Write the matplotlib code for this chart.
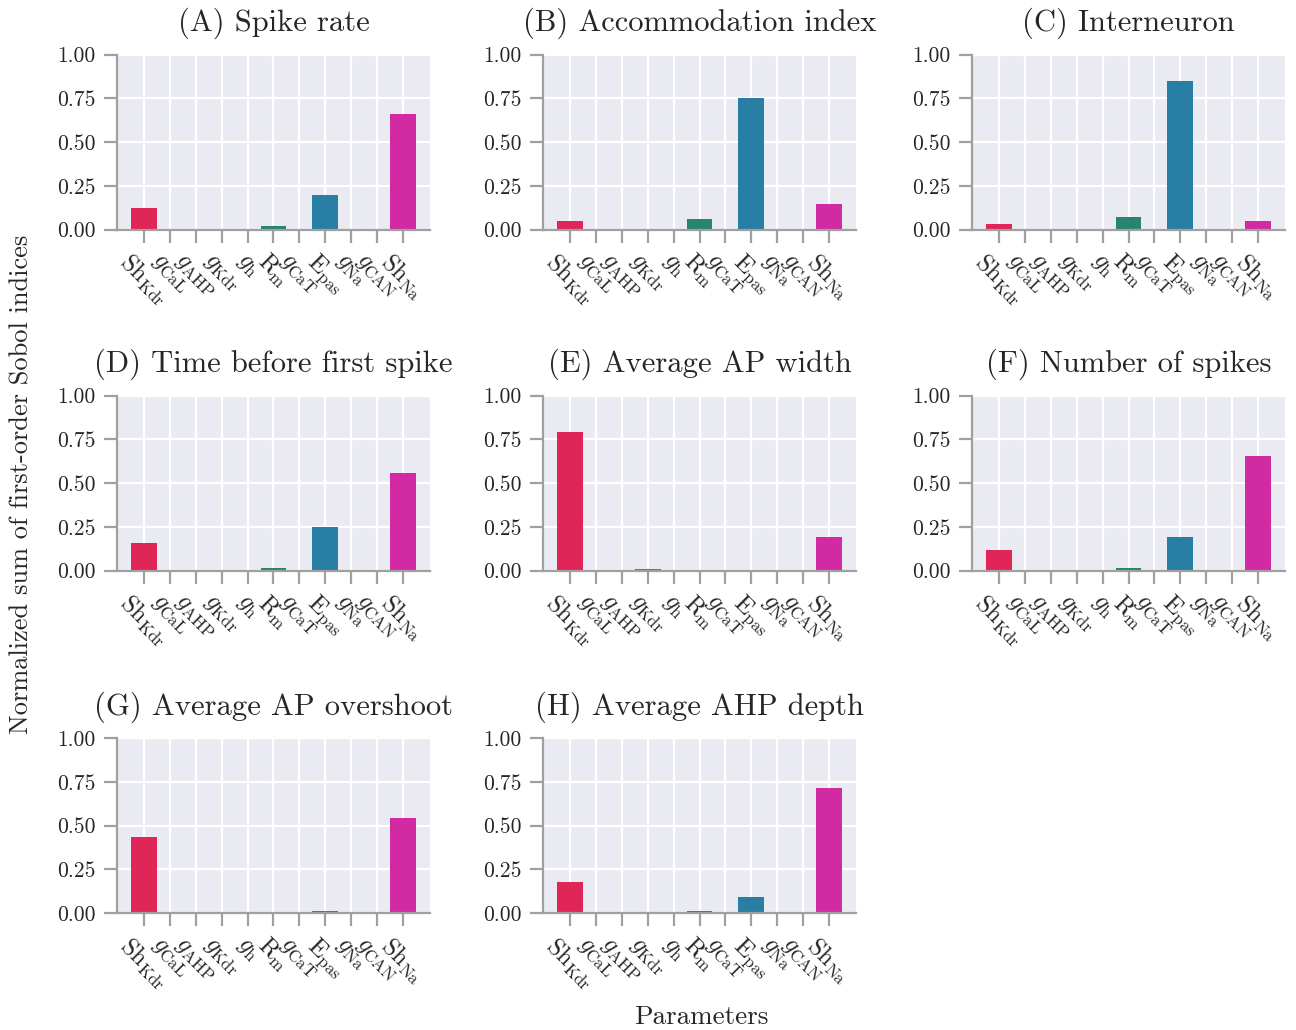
import matplotlib
matplotlib.use("Agg")
import matplotlib.pyplot as plt
import numpy as np
import seaborn as sns

plt.rcParams['font.family'] = 'serif'
plt.rcParams['font.serif'] = ['cmr10', 'DejaVu Serif']
plt.rcParams['mathtext.fontset'] = 'cm'
plt.rcParams['axes.formatter.use_mathtext'] = True
plt.rcParams['axes.unicode_minus'] = False

params = ["ShKdr", "gCaL", "gAHP", "gKdr", "gh", "Rm", "gCaT", "Epas", "gNa", "gCAN", "ShNa"]
param_labels = [r"$\mathrm{Sh}_{\mathrm{Kdr}}$", r"$g_{\mathrm{CaL}}$", r"$g_{\mathrm{AHP}}$",
                r"$g_{\mathrm{Kdr}}$", r"$g_{\mathrm{h}}$", r"$\mathrm{R}_{\mathrm{m}}$",
                r"$g_{\mathrm{CaT}}$", r"$\mathrm{E}_{\mathrm{pas}}$", r"$g_{\mathrm{Na}}$",
                r"$g_{\mathrm{CAN}}$", r"$\mathrm{Sh}_{\mathrm{Na}}$"]

titles = ["(A) Spike rate", "(B) Accommodation index", "(C) Interneuron",
          "(D) Time before first spike", "(E) Average AP width", "(F) Number of spikes",
          "(G) Average AP overshoot", "(H) Average AHP depth"]

#                ShKdr gCaL gAHP gKdr  gh   Rm    gCaT Epas  gNa gCAN ShNa
spike_rate     = [0.122, 0, 0, 0, 0, 0.019, 0, 0.196, 0, 0, 0.658]
accommodation  = [0.048, 0, 0, 0, 0, 0.059, 0, 0.750, 0, 0, 0.145]
interneuron    = [0.030, 0, 0, 0, 0, 0.070, 0, 0.848, 0, 0, 0.048]
time_first     = [0.158, 0, 0, 0, 0, 0.015, 0, 0.250, 0, 0, 0.558]
ap_width       = [0.791, 0, 0, 0.011, 0, 0, 0, 0, 0, 0, 0.190]
n_spikes       = [0.118, 0, 0, 0, 0, 0.015, 0, 0.192, 0, 0, 0.655]
ap_overshoot   = [0.434, 0, 0, 0, 0, 0, 0, 0.011, 0, 0, 0.543]
ahp_depth      = [0.177, 0, 0, 0, 0, 0.011, 0, 0.091, 0, 0, 0.714]

series = [spike_rate, accommodation, interneuron, time_first,
          ap_width, n_spikes, ap_overshoot, ahp_depth]

colors = sns.husl_palette(len(params), s=0.9, l=0.5)

W, H = 1296, 1030
fig = plt.figure(figsize=(W / 100, H / 100), dpi=100)

lefts = [117, 543, 972]
bottoms = [229.5, 570.7, 913]
aw, ah = 313, 175

spine_c = '#a0a0a0'
text_c = '0.15'

x = np.arange(len(params))
for i, (vals, title) in enumerate(zip(series, titles)):
    r, c = divmod(i, 3)
    ax = fig.add_axes([lefts[c] / W, 1 - bottoms[r] / H, aw / W, ah / H])
    ax.set_facecolor('#eaeaf2')
    ax.grid(True, color='white', linewidth=1.6)
    ax.set_axisbelow(True)
    ax.bar(x, vals, width=1.0, color=colors, linewidth=0)
    ax.set_xlim(-1.05, 11.05)
    ax.set_ylim(0, 1.0)
    ax.set_yticks([0, 0.25, 0.5, 0.75, 1.0])
    ax.set_yticklabels(["0.00", "0.25", "0.50", "0.75", "1.00"])
    ax.set_xticks(x)
    ax.set_xticklabels(param_labels, rotation=-45)
    for s in ['top', 'right']:
        ax.spines[s].set_visible(False)
    for s in ['left', 'bottom']:
        ax.spines[s].set_color(spine_c)
        ax.spines[s].set_linewidth(1.6)
    ax.tick_params(axis='both', colors=spine_c, width=1.6, length=9.5,
                   labelcolor=text_c, labelsize=15.5)
    ax.tick_params(axis='y', pad=6)
    ax.tick_params(axis='x', pad=5, labelsize=17.5)
    ax.set_title(title, fontsize=22, color=text_c, pad=17)

fig.text(22 / W, 1 - 484 / H, "Normalized sum of first-order Sobol indices",
         rotation=90, ha='center', va='center', fontsize=19, color=text_c)
fig.text(701 / W, 1 - 1017 / H, "Parameters", ha='center', va='center',
         fontsize=19.5, color=text_c)

fig.savefig("out.png", dpi=100)
